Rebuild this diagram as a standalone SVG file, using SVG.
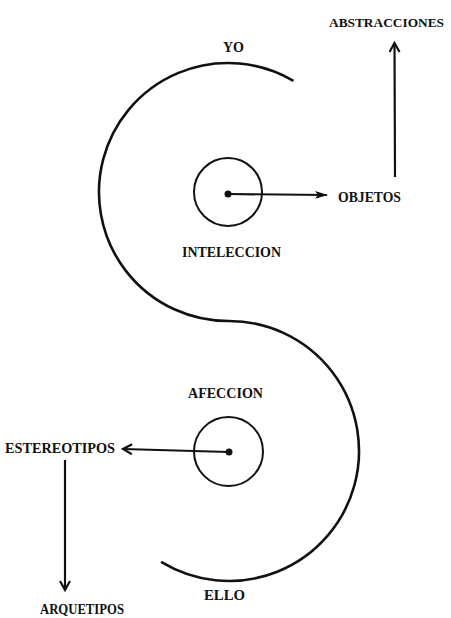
<svg xmlns="http://www.w3.org/2000/svg" width="451" height="618" viewBox="0 0 451 618">
<style>
.lbl{font-family:"Liberation Serif","Times New Roman",serif;font-weight:bold;font-size:14.5px;fill:#111}
.lbl.sm{font-size:13px}
.curve{fill:none;stroke:#111;stroke-width:2.6;stroke-linecap:round}
.ring{fill:none;stroke:#111;stroke-width:2}
.conn{fill:none;stroke:#111;stroke-width:2.2}
</style>
<defs>
<marker id="open" viewBox="0 0 12 12" refX="10" refY="6" markerWidth="12" markerHeight="12" markerUnits="userSpaceOnUse" orient="auto">
<path d="M1 1 L10 6 L1 11" fill="none" stroke="#111" stroke-width="2.2"/>
</marker>
<marker id="solid" viewBox="0 0 13 10" refX="12" refY="5" markerWidth="13" markerHeight="10" markerUnits="userSpaceOnUse" orient="auto">
<path d="M0 1 L13 5 L0 9 L3 5 Z" fill="#111"/>
</marker>
</defs>
<rect width="451" height="618" fill="#fff"/>
<g id="s-curve">
<path class="curve" d="M 292.5 80.3 A 129 129 0 1 0 228.5 321 A 130 130 0 1 1 162 562.4"/>
</g>
<g id="yo"><text class="lbl" x="223" y="52" textLength="21" lengthAdjust="spacingAndGlyphs">YO</text></g>
<g id="inteleccion">
<circle class="ring" cx="228" cy="192" r="34"/>
<circle cx="228" cy="194" r="3.5" fill="#111"/>
<text class="lbl" x="182" y="257" textLength="99" lengthAdjust="spacingAndGlyphs">INTELECCION</text>
</g>
<g id="objetos"><text class="lbl" x="338" y="202" textLength="63" lengthAdjust="spacingAndGlyphs">OBJETOS</text></g>
<g id="abstracciones"><text class="lbl sm" x="329" y="27" textLength="115" lengthAdjust="spacingAndGlyphs">ABSTRACCIONES</text></g>
<g id="afeccion">
<circle class="ring" cx="228.5" cy="451.5" r="34.5"/>
<circle cx="229" cy="452" r="3.5" fill="#111"/>
<text class="lbl" x="188" y="398" textLength="75" lengthAdjust="spacingAndGlyphs">AFECCION</text>
</g>
<g id="estereotipos"><text class="lbl" x="5" y="453" textLength="110" lengthAdjust="spacingAndGlyphs">ESTEREOTIPOS</text></g>
<g id="ello"><text class="lbl" x="204" y="600" textLength="41" lengthAdjust="spacingAndGlyphs">ELLO</text></g>
<g id="arquetipos"><text class="lbl" x="40" y="614" textLength="84" lengthAdjust="spacingAndGlyphs">ARQUETIPOS</text></g>
<g id="connectors">
<path class="conn" d="M 228 194 L 327 195" marker-end="url(#solid)"/>
<path class="conn" d="M 395 177 L 394.5 43" stroke-width="3" marker-end="url(#open)"/>
<path class="conn" d="M 229 452 L 123 449" marker-end="url(#open)"/>
<path class="conn" d="M 65 460 L 65 590" marker-end="url(#open)"/>
</g>
</svg>
